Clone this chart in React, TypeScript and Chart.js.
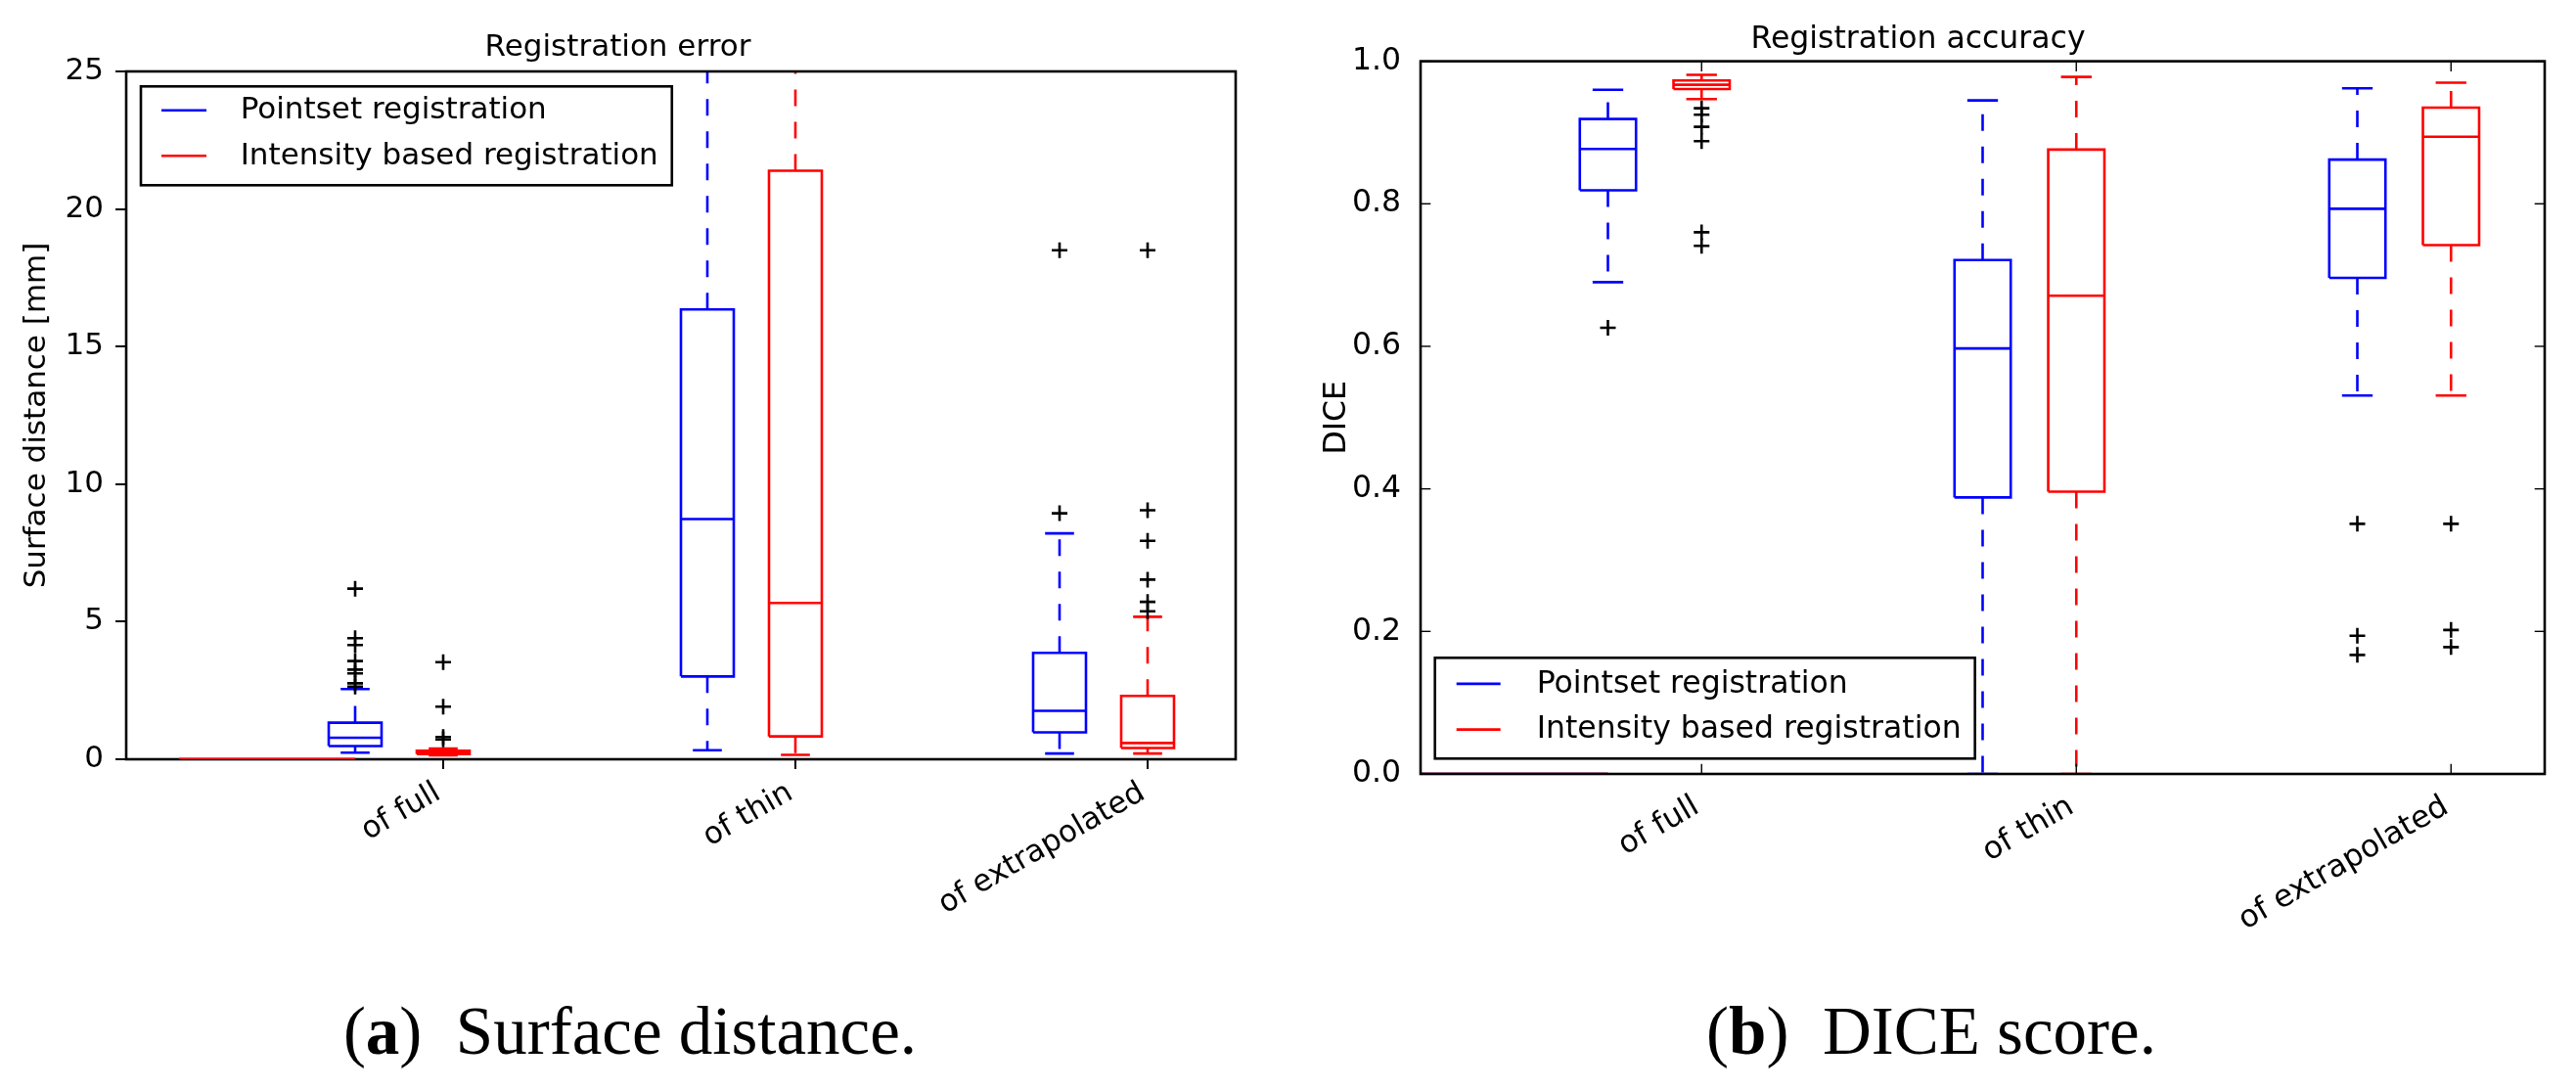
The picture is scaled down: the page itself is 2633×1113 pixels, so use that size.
import React, { useEffect, useRef } from 'react';
import { Chart, registerables } from 'chart.js';

Chart.register(...registerables);

const FONT = "'DejaVu Sans', sans-serif";

const categories = ['of full', 'of thin', 'of extrapolated'];
const categoryPositions = [1.5, 3.5, 5.5];
const seriesNames = ['Pointset registration', 'Intensity based registration'];
const seriesColors = ['#0000ff', '#ff0000'];
const seriesOffsets = [-0.5, 0];
const boxWidth = 0.3;
const legendHandleX = [0, 1];
const legendHandleY = 0;

const surfaceTickValues = [0, 5, 10, 15, 20, 25];
const surfaceTickLabels = ['0', '5', '10', '15', '20', '25'];
const diceTickValues = [0, 0.2, 0.4, 0.6, 0.8, 1.0];
const diceTickLabels = ['0.0', '0.2', '0.4', '0.6', '0.8', '1.0'];

// [lower whisker, Q1, median, Q3, upper whisker] per category
const surfacePointsetStats = [
  [0.24, 0.48, 0.78, 1.33, 2.55],
  [0.33, 3.01, 8.73, 16.35, 27.5],
  [0.21, 0.98, 1.76, 3.87, 8.21],
];
const surfaceIntensityStats = [
  [0.14, 0.19, 0.25, 0.31, 0.39],
  [0.16, 0.83, 5.68, 21.39, 26.0],
  [0.21, 0.41, 0.59, 2.3, 5.18],
];
const surfacePointsetOutliers = [
  [6.2, 4.4, 4.15, 3.57, 3.26, 3.12, 2.76, 2.64],
  [],
  [18.5, 8.94],
];
const surfaceIntensityOutliers = [
  [3.53, 1.91, 0.81, 0.72],
  [],
  [18.5, 9.05, 7.94, 6.53, 5.72, 5.38],
];

const dicePointsetStats = [
  [0.69, 0.819, 0.877, 0.919, 0.96],
  [0.0, 0.388, 0.597, 0.721, 0.945],
  [0.531, 0.696, 0.793, 0.862, 0.962],
];
const diceIntensityStats = [
  [0.947, 0.961, 0.967, 0.973, 0.981],
  [0.0, 0.396, 0.671, 0.876, 0.978],
  [0.531, 0.742, 0.894, 0.935, 0.97],
];
const dicePointsetOutliers = [[0.626], [], [0.351, 0.194, 0.167]];
const diceIntensityOutliers = [
  [0.934, 0.925, 0.908, 0.888, 0.76, 0.741],
  [],
  [0.351, 0.202, 0.178],
];

type Pt = { x: number; y: number | null };

function buildDatasets(statsBySeries: number[][][], outliersBySeries: number[][][]) {
  const ds: any[] = [];
  const base = {
    type: 'line',
    pointRadius: 0,
    pointHoverRadius: 0,
    borderWidth: 2.6,
    fill: false,
    tension: 0,
    spanGaps: false,
  };
  // legend handle lines (plotted at y = 0); Chart.js draws dataset 0 last (on top)
  [...seriesColors].reverse().forEach((col) => {
    ds.push({
      ...base,
      data: legendHandleX.map((x) => ({ x, y: legendHandleY })),
      borderColor: col,
    });
  });
  statsBySeries.forEach((stats, s) => {
    const color = seriesColors[s];
    const box: Pt[] = [];
    const med: Pt[] = [];
    const whisk: Pt[] = [];
    const caps: Pt[] = [];
    const out: Pt[] = [];
    stats.forEach((st, c) => {
      const x = categoryPositions[c] + seriesOffsets[s];
      const [lo, q1, m, q3, hi] = st;
      const hw = boxWidth / 2;
      const cw = boxWidth / 4;
      box.push(
        { x: x - hw, y: q1 }, { x: x + hw, y: q1 }, { x: x + hw, y: q3 },
        { x: x - hw, y: q3 }, { x: x - hw, y: q1 }, { x, y: null }
      );
      med.push({ x: x - hw, y: m }, { x: x + hw, y: m }, { x, y: null });
      whisk.push({ x, y: q1 }, { x, y: lo }, { x, y: null }, { x, y: q3 }, { x, y: hi }, { x, y: null });
      caps.push(
        { x: x - cw, y: lo }, { x: x + cw, y: lo }, { x, y: null },
        { x: x - cw, y: hi }, { x: x + cw, y: hi }, { x, y: null }
      );
      outliersBySeries[s][c].forEach((v) => out.push({ x, y: v }));
    });
    ds.push({
      ...base,
      data: out,
      showLine: false,
      pointStyle: 'cross',
      pointRadius: 8,
      pointHoverRadius: 8,
      pointBorderWidth: 2.6,
      pointBorderColor: '#000',
      borderColor: '#000',
    });
    ds.push({ ...base, data: med, borderColor: color, borderCapStyle: 'butt' });
    ds.push({ ...base, data: box, borderColor: color, borderJoinStyle: 'miter' });
    ds.push({ ...base, data: caps, borderColor: color, borderCapStyle: 'square' });
    ds.push({ ...base, data: whisk, borderColor: color, borderDash: [17, 16], borderCapStyle: 'butt' });
  });
  return ds;
}

type LegendCfg = {
  x: number; y: number; anchor: 'top' | 'bottom'; h: number;
  line0: number; line1: number; textX: number; rows: number[]; padR: number; font: number;
};

function decorPlugin(inwardTicks: boolean, handlesOnTop: boolean, lg: LegendCfg) {
  const seg = (ctx: any, x1: number, y1: number, x2: number, y2: number) => {
    ctx.beginPath();
    ctx.moveTo(x1, y1);
    ctx.lineTo(x2, y2);
    ctx.stroke();
  };
  const drawFrame = (chart: any) => {
    const { ctx, chartArea: a, scales } = chart;
    ctx.save();
    ctx.strokeStyle = '#000';
    if (inwardTicks) {
      const L = 10.3;
      ctx.lineWidth = 1.4;
      scales.x.ticks.forEach((t: any) => {
        const px = scales.x.getPixelForValue(t.value);
        seg(ctx, px, a.bottom, px, a.bottom - L);
        seg(ctx, px, a.top, px, a.top + L);
      });
      scales.y.ticks.forEach((t: any) => {
        const py = scales.y.getPixelForValue(t.value);
        seg(ctx, a.left, py, a.left + L, py);
        seg(ctx, a.right, py, a.right - L, py);
      });
    }
    ctx.lineWidth = 2.6;
    ctx.strokeRect(a.left, a.top, a.right - a.left, a.bottom - a.top);
    ctx.restore();
  };
  return {
    id: 'decor',
    beforeDatasetDraw(chart: any, args: any) {
      if (handlesOnTop && args.index === 1) drawFrame(chart);
    },
    afterDatasetsDraw(chart: any) {
      if (!handlesOnTop) drawFrame(chart);
      const { ctx, chartArea: a } = chart;
      ctx.save();
      ctx.font = `${lg.font}px ${FONT}`;
      const tw = Math.max(...seriesNames.map((n) => ctx.measureText(n).width));
      const bx = a.left + lg.x;
      const by = lg.anchor === 'top' ? a.top + lg.y : a.bottom - lg.y - lg.h;
      const bw = lg.textX + tw + lg.padR;
      ctx.fillStyle = '#fff';
      ctx.fillRect(bx, by, bw, lg.h);
      ctx.lineWidth = 2.6;
      ctx.strokeStyle = '#000';
      ctx.strokeRect(bx, by, bw, lg.h);
      seriesNames.forEach((name, i) => {
        const ry = by + lg.rows[i];
        ctx.strokeStyle = seriesColors[i];
        ctx.lineWidth = 2.6;
        seg(ctx, bx + lg.line0, ry, bx + lg.line1, ry);
        ctx.fillStyle = '#000';
        ctx.textAlign = 'left';
        ctx.textBaseline = 'middle';
        ctx.fillText(name, bx + lg.textX, ry + 0.5);
      });
      ctx.restore();
    },
  };
}

type PanelCfg = {
  title: string;
  titlePad: { top: number; bottom: number };
  yLabel: string;
  yLabelPad: number;
  xMin: number; xMax: number;
  yMin: number; yMax: number;
  yTickValues: number[]; yTickLabels: string[];
  stats: number[][][]; outliers: number[][][];
  yWidth: number; xHeight: number; rightPad: number;
  outward: boolean; handlesOnTop: boolean; xLabelPad: number; yLabelPadTick: number;
  font: number;
  legend: LegendCfg;
};

function makeConfig(p: PanelCfg): any {
  const font = { family: FONT, size: p.font, weight: 'normal' as const };
  return {
    type: 'line',
    data: { datasets: buildDatasets(p.stats, p.outliers) },
    plugins: [decorPlugin(!p.outward, p.handlesOnTop, p.legend)],
    options: {
      animation: false,
      responsive: false,
      devicePixelRatio: 1,
      events: [],
      layout: { padding: { left: 0, top: 0, right: p.rightPad, bottom: 0 } },
      plugins: {
        legend: { display: false },
        tooltip: { enabled: false },
        title: {
          display: true,
          text: p.title,
          color: '#000',
          font,
          padding: p.titlePad,
        },
      },
      scales: {
        x: {
          type: 'linear',
          min: p.xMin,
          max: p.xMax,
          afterBuildTicks: (s: any) => {
            s.ticks = categoryPositions.map((v) => ({ value: v }));
          },
          afterFit: (s: any) => {
            s.height = p.xHeight;
          },
          border: { display: false },
          grid: p.outward
            ? { display: true, drawOnChartArea: false, drawTicks: true, tickLength: 10, color: '#000', lineWidth: 2 }
            : { display: false },
          ticks: {
            autoSkip: false,
            minRotation: 30,
            maxRotation: 30,
            padding: p.xLabelPad,
            labelOffset: -5,
            color: '#000',
            font,
            callback: (_v: any, i: number) => categories[i],
          },
        },
        y: {
          type: 'linear',
          min: p.yMin,
          max: p.yMax,
          afterBuildTicks: (s: any) => {
            s.ticks = p.yTickValues.map((v) => ({ value: v }));
          },
          afterFit: (s: any) => {
            s.width = p.yWidth;
          },
          border: { display: false },
          grid: p.outward
            ? { display: true, drawOnChartArea: false, drawTicks: true, tickLength: 11, color: '#000', lineWidth: 2 }
            : { display: false },
          ticks: {
            padding: p.yLabelPadTick,
            color: '#000',
            font,
            callback: (_v: any, i: number) => p.yTickLabels[i],
          },
          title: {
            display: true,
            text: p.yLabel,
            color: '#000',
            font,
            padding: { top: p.yLabelPad, bottom: 0 },
          },
        },
      },
    },
  };
}

const CANVAS_H = 960;

export default function App() {
  const leftRef = useRef<HTMLCanvasElement>(null);
  const rightRef = useRef<HTMLCanvasElement>(null);

  useEffect(() => {
    Chart.defaults.font.family = FONT;
    const left = new Chart(
      leftRef.current as HTMLCanvasElement,
      makeConfig({
        title: 'Registration error',
        titlePad: { top: 30, bottom: 5.8 },
        yLabel: 'Surface distance [mm]',
        yLabelPad: 19.5,
        xMin: -0.3, xMax: 6,
        yMin: 0, yMax: 25,
        yTickValues: surfaceTickValues, yTickLabels: surfaceTickLabels,
        stats: [surfacePointsetStats, surfaceIntensityStats],
        outliers: [surfacePointsetOutliers, surfaceIntensityOutliers],
        yWidth: 129, xHeight: CANVAS_H - 776, rightPad: 1300 - 1263,
        outward: true, handlesOnTop: true, xLabelPad: 6, yLabelPadTick: 12,
        font: 31,
        legend: { x: 15, y: 15.3, anchor: 'top', h: 101, line0: 21, line1: 67, textX: 101.7, rows: [24.4, 71], padR: 14, font: 31 },
      })
    );
    const right = new Chart(
      rightRef.current as HTMLCanvasElement,
      makeConfig({
        title: 'Registration accuracy',
        titlePad: { top: 21.7, bottom: 3.1 },
        yLabel: 'DICE',
        yLabelPad: 28,
        xMin: 0, xMax: 6,
        yMin: 0, yMax: 1,
        yTickValues: diceTickValues, yTickLabels: diceTickLabels,
        stats: [dicePointsetStats, diceIntensityStats],
        outliers: [dicePointsetOutliers, diceIntensityOutliers],
        yWidth: 132, xHeight: CANVAS_H - 791, rightPad: 1313 - 1281,
        outward: false, handlesOnTop: false, xLabelPad: 7, yLabelPadTick: 12,
        font: 31.5,
        legend: { x: 14.7, y: 15.7, anchor: 'bottom', h: 103, line0: 22, line1: 67, textX: 104, rows: [26.6, 73.3], padR: 14, font: 31.5 },
      })
    );
    return () => {
      left.destroy();
      right.destroy();
    };
  }, []);

  const captionStyle = (cx: number): React.CSSProperties => ({
    position: 'absolute',
    left: cx - 400,
    width: 800,
    top: 1020,
    textAlign: 'center',
    fontFamily: "'Liberation Serif', serif",
    fontSize: 69,
    lineHeight: '69px',
    color: '#000',
    whiteSpace: 'nowrap',
  });

  return (
    <div
      style={{
        position: 'absolute',
        left: 0,
        top: 0,
        width: 2633,
        height: 1113,
        background: '#fff',
        overflow: 'hidden',
      }}
    >
      <canvas
        ref={leftRef}
        width={1300}
        height={CANVAS_H}
        style={{ position: 'absolute', left: 0, top: 0, width: 1300, height: CANVAS_H }}
      />
      <canvas
        ref={rightRef}
        width={1313}
        height={CANVAS_H}
        style={{ position: 'absolute', left: 1320, top: 0, width: 1313, height: CANVAS_H }}
      />
      <div style={captionStyle(644)}>
        (<b>a</b>)&ensp;Surface distance.
      </div>
      <div style={captionStyle(1974)}>
        (<b>b</b>)&ensp;DICE score.
      </div>
    </div>
  );
}
